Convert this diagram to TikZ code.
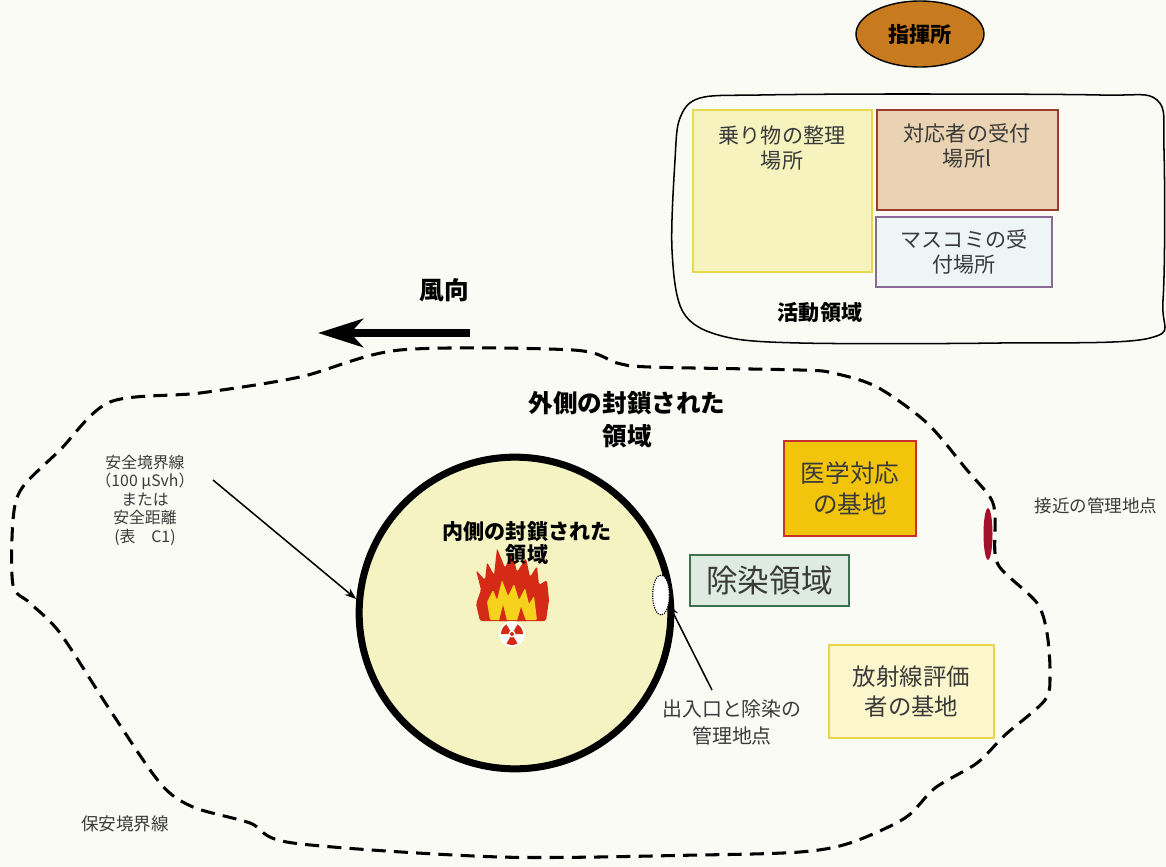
\documentclass[tikz,border=0pt]{standalone}
\usepackage{fontspec}
\setmainfont{Noto Sans CJK JP}
\usetikzlibrary{arrows.meta,shapes.geometric}

\definecolor{paper}{HTML}{FBFBF6}
\definecolor{ink}{HTML}{3A3A3A}
\definecolor{post}{HTML}{C87A1E}
\definecolor{parkfill}{HTML}{F6F3BE}
\definecolor{parkline}{HTML}{E6D94E}
\definecolor{respfill}{HTML}{EAD3B2}
\definecolor{respline}{HTML}{9A3B2B}
\definecolor{pressfill}{HTML}{EEF5F5}
\definecolor{pressline}{HTML}{8B6B96}
\definecolor{medfill}{HTML}{F2C40C}
\definecolor{medline}{HTML}{C8302A}
\definecolor{deconfill}{HTML}{DDEBE0}
\definecolor{deconline}{HTML}{3E7150}
\definecolor{radfill}{HTML}{FBF6CC}
\definecolor{radline}{HTML}{E9D64A}
\definecolor{hotzone}{HTML}{F5F3C2}
\definecolor{approach}{HTML}{A3122A}
\definecolor{flamered}{HTML}{D42A16}
\definecolor{flameyellow}{HTML}{F6D21C}

\begin{document}
\begin{tikzpicture}[x=0.03cm,y=-0.03cm,
zone/.style={
	rectangle,line width=1.6pt,inner sep=0pt},
tag/.style={align=center,text=ink,
	font=\fontsize{18}{22}\selectfont},
heading/.style={align=center,text=black,
	font=\fontsize{18}{21}\selectfont\bfseries},
note/.style={align=center,text=ink,
	font=\fontsize{15}{18}\selectfont},
callout/.style={line width=1.3pt,-{Stealth[length=10pt,width=7pt]}},
boundary/.style={line width=2.6pt,dash pattern=on 12pt off 7pt}
]
\fill[paper] (0,0) rectangle (1166,867);
\useasboundingbox (0,0) rectangle (1166,867);

% command post and the activity area
\draw[line width=1.2pt,fill=post] (920,34) ellipse[x radius=64,y radius=33];
\node[heading] (post) at (920,34) {指揮所};
\draw[line width=1.3pt] plot[smooth cycle,tension=0.55] coordinates {
	(760,95) (900,94) (1100,95) (1157,100) (1164,150) (1163,300) (1150,338)
	(1000,343) (800,343) (722,336) (683,312) (672,250) (675,160) (680,118) (700,98)};
\node[zone,draw=parkline,fill=parkfill,minimum width=5.37cm,minimum height=4.86cm] (park) at (782.5,191) {};
\node[tag] (parktxt) at (782,148) {乗り物の整理\\場所};
\node[zone,draw=respline,fill=respfill,minimum width=5.43cm,minimum height=3.0cm] (resp) at (967.5,160) {};
\node[tag] (resptxt) at (967,146) {対応者の受付\\場所l};
\node[zone,draw=pressline,fill=pressfill,minimum width=5.28cm,minimum height=2.1cm,tag] (press) at (964,252) {マスコミの受\\付場所};
\node[heading] (active) at (820,313) {活動領域};

% wind direction
\node[heading,font=\fontsize{21}{24}\selectfont\bfseries] (wind) at (444,290) {風向};
\coordinate (windtail) at (470,333);
\coordinate (windhead) at (318,333);
\draw[line width=6pt,-{Stealth[length=1.35cm,width=0.85cm,inset=0.38cm]}] (windtail) -- (windhead);

% security perimeter (outer cordon)
\draw[boundary] plot[smooth cycle,tension=0.5] coordinates {
	(400,350) (573,350) (617,363) (650,367) (800,370) (833,373) (877,387)
	(927,423) (967,470) (990,497) (995,515) (995,553) (1002,570) (1037,603)
	(1047,633) (1050,673) (1045,700) (1005,735) (977,763) (935,788) (905,818)
	(850,843) (800,852) (700,855) (500,857) (293,843) (250,823) (193,807)
	(160,783) (110,710) (60,633) (30,603) (13,585) (13,520) (22,488)
	(60,450) (110,402) (200,393) (300,377)};
\node[heading,font=\fontsize{21}{28}\selectfont\bfseries] (outer) at (627,420) {外側の封鎖された\\領域};
\node[approach,ellipse,fill=approach,minimum width=0.27cm,minimum height=1.55cm,inner sep=0pt] (ap) at (988,534) {};
\node[note] (aptxt) at (1096,506) {接近の管理地点};
\node[note] (perim) at (125,824) {保安境界線};

% inner cordon with the hazard
\node[circle,draw,line width=6pt,fill=hotzone,minimum size=9.35cm] (hot) at (515,613) {};
\fill[flamered,rounded corners=1.5pt] (480,621) -- (476,604) -- (481,590) -- (476,570)
	-- (485,580) -- (487,562) -- (494,575) -- (497,548) -- (505,568) -- (512,552)
	-- (517,572) -- (526,558) -- (530,577) -- (537,566) -- (539,585) -- (547,580)
	-- (549,600) -- (546,621) -- cycle;
\fill[flameyellow,rounded corners=1pt] (490,620) -- (487,602) -- (493,590) -- (497,600)
	-- (502,580) -- (508,596) -- (514,584) -- (519,600) -- (525,588) -- (529,604)
	-- (534,596) -- (537,620) -- cycle;
\fill[flamered] (499,621) -- (503,605) -- (507,621) -- cycle;
\fill[flamered] (517,621) -- (521,607) -- (526,621) -- cycle;
\fill[white] (512,634) circle[radius=13];
\foreach \a in {90,210,330}
	\fill[flamered] (512,634) -- ++(\a-30:11) arc[start angle=\a-30,end angle=\a+30,radius=11] -- cycle;
\fill[white] (512,634) circle[radius=3.5];
\fill[flamered] (512,634) circle[radius=2];
\node[heading,font=\fontsize{18}{20}\selectfont\bfseries] (inner) at (527,543) {内側の封鎖された\\領域};
\node[ellipse,draw,densely dotted,line width=1pt,fill=white,minimum width=0.5cm,minimum height=1.2cm] (gate) at (661,595) {};

% bases inside the outer cordon
\node[zone,draw=medline,fill=medfill,minimum width=3.96cm,minimum height=2.85cm,
	tag,font=\fontsize{21}{26}\selectfont] (medical) at (850,488.5) {医学対応\\の基地};
\node[zone,draw=deconline,fill=deconfill,minimum width=4.77cm,minimum height=1.53cm,
	tag,font=\fontsize{27}{30}\selectfont] (decon) at (769.5,580.5) {除染領域};
\node[zone,draw=radline,fill=radfill,minimum width=4.95cm,minimum height=2.79cm,
	tag,font=\fontsize{20}{25}\selectfont] (radbase) at (911.5,691.5) {放射線評価\\者の基地};

% callouts
\node[note,font=\fontsize{13.5}{15.8}\selectfont] (safety) at (145,500)
	{安全境界線\\（100 μSvh）\\または\\安全距離\\(表\quad C1)};
\node[tag,font=\fontsize{17}{23}\selectfont] (gatetxt) at (732,722) {出入口と除染の\\管理地点};
\coordinate (safetyfoot) at (213,480);
\coordinate (gatefoot) at (712,690);
\draw[callout] (safetyfoot) -- (hot.175);
\draw[callout] (gatefoot) -- (gate.-50);

\end{tikzpicture}
\end{document}
